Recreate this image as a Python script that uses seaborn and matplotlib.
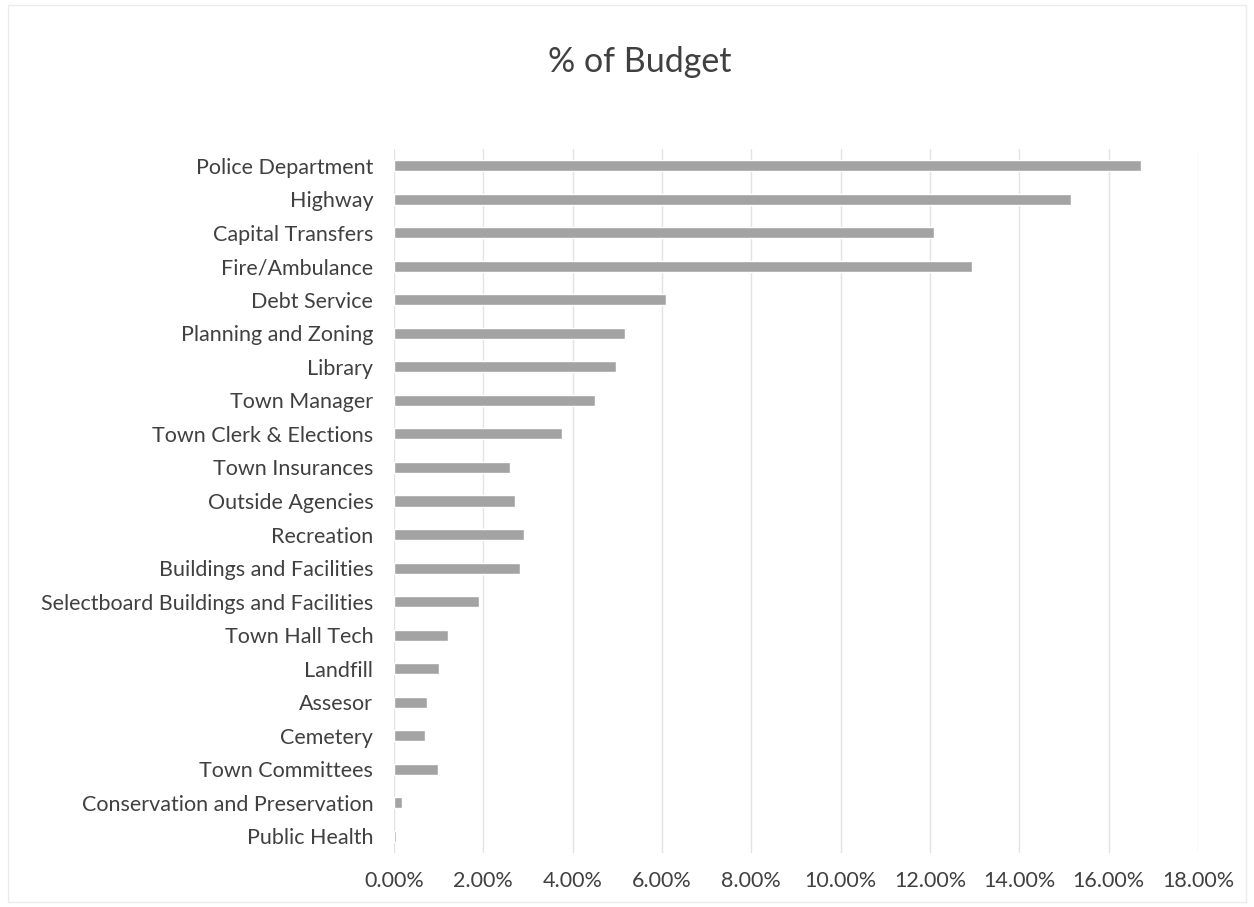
import matplotlib
matplotlib.use("Agg")
import matplotlib.pyplot as plt
import seaborn as sns
import pandas as pd
from matplotlib.ticker import FuncFormatter
from matplotlib.patches import Rectangle

categories = ["Police Department", "Highway", "Capital Transfers", "Fire/Ambulance",
              "Debt Service", "Planning and Zoning", "Library", "Town Manager",
              "Town Clerk & Elections", "Town Insurances", "Outside Agencies",
              "Recreation", "Buildings and Facilities",
              "Selectboard Buildings and Facilities", "Town Hall Tech", "Landfill",
              "Assesor", "Cemetery", "Town Committees",
              "Conservation and Preservation", "Public Health"]
pct_budget = [0.1672, 0.1515, 0.1208, 0.1295, 0.0610, 0.0517, 0.0496, 0.0449,
              0.0377, 0.0260, 0.0272, 0.0290, 0.0281, 0.0190, 0.0122, 0.0100,
              0.0074, 0.0069, 0.0099, 0.0018, 0.0004]
x_ticks = [0.00, 0.02, 0.04, 0.06, 0.08, 0.10, 0.12, 0.14, 0.16, 0.18]

df = pd.DataFrame({"Category": categories, "Pct": pct_budget})

sns.set_theme(style="white")
plt.rcParams["font.family"] = ["Lato", "DejaVu Sans"]

fig = plt.figure(figsize=(12.54, 9.07), dpi=100)
fig.patch.set_facecolor("white")
ax = fig.add_axes([394/1254, 1-853/907, (1198-394)/1254, (853-149)/907])

sns.barplot(data=df, x="Pct", y="Category", order=categories, orient="h",
            color="#a3a3a3", saturation=1, width=0.33, ax=ax, zorder=3)

ax.set_xlim(0, 0.18)
ax.set_xticks(x_ticks)
ax.xaxis.set_major_formatter(FuncFormatter(lambda v, p: f"{v*100:.2f}%"))
ax.grid(axis="x", color="#e3e3e3", linewidth=1, zorder=0)
ax.set_axisbelow(True)
for s in ax.spines.values():
    s.set_visible(False)
ax.set_xlabel("")
ax.set_ylabel("")
ax.tick_params(axis="both", length=0, labelcolor="#404040", labelsize=15.5)
ax.tick_params(axis="y", pad=15)
ax.tick_params(axis="x", pad=13)

fig.text(0.51, 1-62/907, "% of Budget", ha="center", va="center",
         fontsize=24.5, color="#404040")

fig.patches.append(Rectangle((8/1254, 0.005), 1-16/1254, 0.99, transform=fig.transFigure,
                             fill=False, edgecolor="#ececec", linewidth=1))

fig.savefig("out.png", dpi=100, facecolor="white")
